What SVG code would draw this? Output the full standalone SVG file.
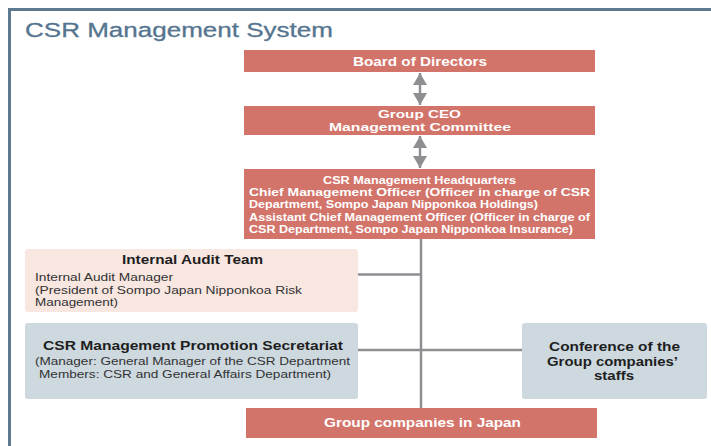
<svg xmlns="http://www.w3.org/2000/svg" width="711" height="446" viewBox="0 0 711 446">
<defs>
<style>
.red{fill:#d3746a}
.pink{fill:#f8e6e1}
.blue{fill:#cdd8df}
.w{fill:#ffffff;font-family:"Liberation Sans",Arial,sans-serif;font-weight:bold}
.b{fill:#1e1e1e;font-family:"Liberation Sans",Arial,sans-serif;font-weight:bold}
.r{fill:#333333;font-family:"Liberation Sans",Arial,sans-serif}
.ln{stroke:#8e8e93;stroke-width:2.5;fill:none}
</style>
<marker id="ah" viewBox="0 0 12 14" refX="12" refY="7" markerWidth="12" markerHeight="14" markerUnits="userSpaceOnUse" orient="auto-start-reverse">
<path d="M0,0 L12,7 L0,14 z" fill="#8e8e93"/>
</marker>
</defs>
<rect width="711" height="446" fill="#ffffff"/>
<path d="M9.5,446 V9.5 H711" stroke="#5f7990" stroke-width="3" fill="none"/>
<text x="25" y="36.5" font-size="20" fill="#56758f" font-family="'Liberation Sans',Arial,sans-serif" stroke="#56758f" stroke-width="0.3" textLength="308" lengthAdjust="spacingAndGlyphs">CSR Management System</text>

<g id="connectors">
<line class="ln" x1="421" y1="239" x2="421" y2="408"/>
<line class="ln" x1="358" y1="274.5" x2="421" y2="274.5"/>
<line class="ln" x1="358" y1="350" x2="522" y2="350"/>
<line class="ln" x1="420" y1="73" x2="420" y2="105" marker-start="url(#ah)" marker-end="url(#ah)"/>
<line class="ln" x1="420" y1="136" x2="420" y2="168" marker-start="url(#ah)" marker-end="url(#ah)"/>
</g>

<g id="board">
<rect class="red" x="244" y="50" width="351" height="22"/>
<text class="w" x="353" y="65.7" font-size="12.5" textLength="134" lengthAdjust="spacingAndGlyphs">Board of Directors</text>
</g>

<g id="ceo">
<rect class="red" x="244" y="106" width="351" height="29"/>
<text class="w" x="378" y="117.8" font-size="11.5" textLength="83" lengthAdjust="spacingAndGlyphs">Group CEO</text>
<text class="w" x="329" y="130.5" font-size="11.5" textLength="182" lengthAdjust="spacingAndGlyphs">Management Committee</text>
</g>

<g id="hq">
<rect class="red" x="244" y="169" width="351" height="70"/>
<text class="w" x="323" y="183.5" font-size="11.5" textLength="193" lengthAdjust="spacingAndGlyphs">CSR Management Headquarters</text>
<text class="w" x="249" y="196" font-size="11.5" textLength="341" lengthAdjust="spacingAndGlyphs">Chief Management Officer (Officer in charge of CSR</text>
<text class="w" x="249" y="208.3" font-size="11.5" textLength="289" lengthAdjust="spacingAndGlyphs">Department, Sompo Japan Nipponkoa Holdings)</text>
<text class="w" x="249" y="220.8" font-size="11.5" textLength="341" lengthAdjust="spacingAndGlyphs">Assistant Chief Management Officer (Officer in charge of</text>
<text class="w" x="249" y="233" font-size="11.5" textLength="324" lengthAdjust="spacingAndGlyphs">CSR Department, Sompo Japan Nipponkoa Insurance)</text>
</g>

<g id="audit">
<rect class="pink" x="25" y="249" width="333" height="63" rx="3"/>
<text class="b" x="122" y="264" font-size="13" textLength="141" lengthAdjust="spacingAndGlyphs">Internal Audit Team</text>
<text class="r" x="35" y="281" font-size="11.5" textLength="138" lengthAdjust="spacingAndGlyphs">Internal Audit Manager</text>
<text class="r" x="35" y="293.5" font-size="11.5" textLength="267" lengthAdjust="spacingAndGlyphs">(President of Sompo Japan Nipponkoa Risk</text>
<text class="r" x="35" y="306" font-size="11.5" textLength="83" lengthAdjust="spacingAndGlyphs">Management)</text>
</g>

<g id="secretariat">
<rect class="blue" x="25" y="323" width="333" height="76" rx="3"/>
<text class="b" x="43" y="350" font-size="13" textLength="300" lengthAdjust="spacingAndGlyphs">CSR Management Promotion Secretariat</text>
<text class="r" x="35" y="365" font-size="11.5" textLength="315" lengthAdjust="spacingAndGlyphs">(Manager: General Manager of the CSR Department</text>
<text class="r" x="39" y="377.5" font-size="11.5" textLength="292" lengthAdjust="spacingAndGlyphs">Members: CSR and General Affairs Department)</text>
</g>

<g id="conference">
<rect class="blue" x="522" y="323" width="185" height="76" rx="3"/>
<text class="b" x="549" y="351" font-size="12.5" textLength="131" lengthAdjust="spacingAndGlyphs">Conference of the</text>
<text class="b" x="547" y="365.5" font-size="12.5" textLength="131" lengthAdjust="spacingAndGlyphs">Group companies’</text>
<text class="b" x="594" y="379.5" font-size="12.5" textLength="40" lengthAdjust="spacingAndGlyphs">staffs</text>
</g>

<g id="groupjapan">
<rect class="red" x="246" y="408" width="351" height="30"/>
<text class="w" x="324" y="427" font-size="12.5" textLength="197" lengthAdjust="spacingAndGlyphs">Group companies in Japan</text>
</g>
</svg>
